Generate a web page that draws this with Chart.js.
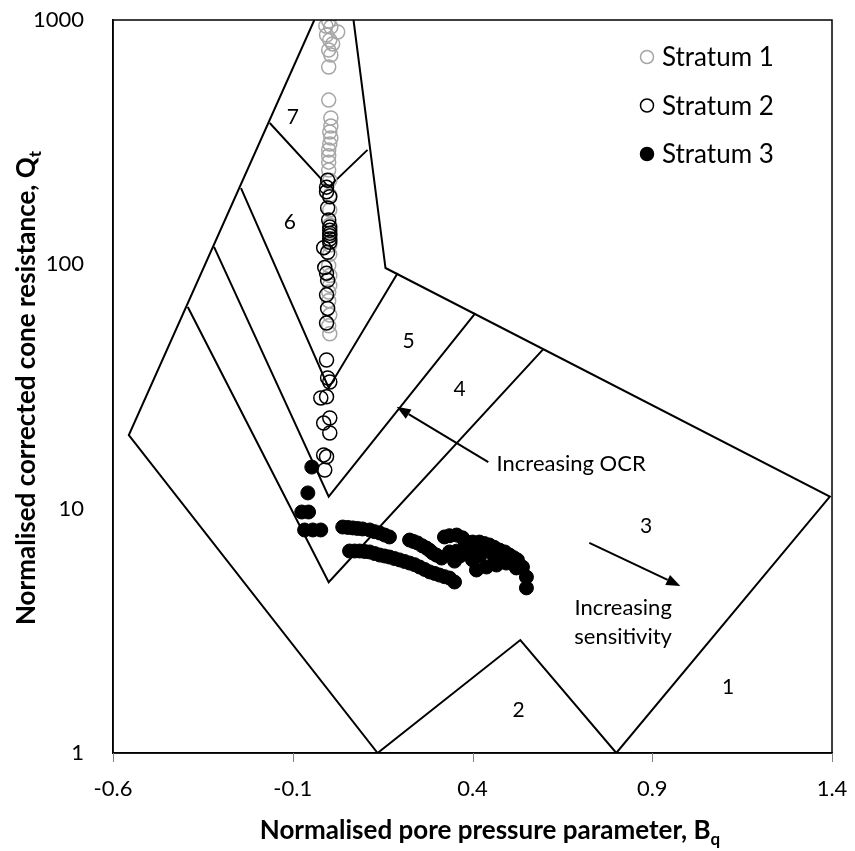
<!DOCTYPE html>
<html>
<head>
<meta charset="utf-8">
<script src="https://cdn.jsdelivr.net/npm/chart.js@4/dist/chart.umd.min.js"></script>
<style>
  html, body { margin: 0; padding: 0; background: #fff; }
  #wrap { width: 855px; height: 851px; position: relative; }
</style>
</head>
<body>
<div id="wrap"><canvas id="c" width="855" height="851"></canvas></div>
<script>
// ---------- data ----------
const xTickValues = [-0.6, -0.1, 0.4, 0.9, 1.4];
const yTickValues = [1, 10, 100, 1000];

// Stratum 1 (grey open circles)
const stratum1X = [0.000, -0.008, 0.006, 0.025, -0.006, 0.003, 0.011, 0.000, 0.006, 0.000, 0.000, 0.006, 0.006, 0.003, 0.006, 0.003, 0.000, 0.000, 0.000, 0.000, 0.003, 0.003, 0.003, 0.003, 0.003, 0.000, 0.003, 0.000, 0.003, 0.000, 0.003, 0.003, 0.003, 0.000];
const stratum1Y = [991, 945, 936, 893, 868, 828, 798, 754, 719, 642, 470, 397, 368, 348, 329, 311, 294, 278, 262, 243, 221, 192, 167, 145, 120, 99, 82, 71, 62, 56, 52, 110, 90, 77];

// Stratum 2 (black open circles)
const stratum2X = [-0.003, -0.006, -0.006, 0.003, -0.003, 0.000, 0.003, 0.003, 0.003, 0.003, 0.003, 0.003, -0.014, -0.003, -0.011, -0.006, -0.003, -0.006, -0.003, -0.006, -0.006, -0.003, 0.003, -0.022, -0.006, 0.003, -0.014, 0.003, -0.014, -0.006, -0.011];
const stratum2Y = [221, 207, 198, 189, 170, 152, 142, 138, 134, 131, 127, 123, 117, 112, 97, 92, 86, 75, 66, 57.5, 40.6, 34.3, 33, 28.4, 28.7, 23.5, 22.4, 20.4, 16.6, 16.3, 14.4];

// Stratum 3 (black filled circles)
const stratum3X = [
  -0.047, -0.058, -0.075, -0.056, -0.067, -0.044, -0.022,
  0.039, 0.053, 0.067, 0.080, 0.094, 0.114, 0.128, 0.142, 0.156, 0.169,
  0.058, 0.072, 0.086, 0.100, 0.114, 0.128, 0.142, 0.156, 0.169, 0.183, 0.197, 0.211, 0.225, 0.239, 0.253, 0.267, 0.281, 0.295, 0.308, 0.322, 0.336, 0.350,
  0.225, 0.236, 0.247, 0.260, 0.272, 0.281, 0.289, 0.300, 0.314,
  0.322, 0.336, 0.356, 0.372, 0.383, 0.400, 0.419, 0.433, 0.447, 0.460, 0.475, 0.490, 0.503, 0.515, 0.525, 0.539, 0.550, 0.550,
  0.336, 0.356, 0.372, 0.392, 0.400, 0.411, 0.420, 0.439, 0.447, 0.467, 0.475, 0.494, 0.510, 0.522, 0.350, 0.365, 0.430, 0.460, 0.490
];
const stratum3Y = [
  14.8, 11.6, 9.69, 9.69, 8.18, 8.18, 8.18,
  8.41, 8.38, 8.34, 8.30, 8.26, 8.18, 8.05, 7.95, 7.80, 7.66,
  6.71, 6.71, 6.71, 6.68, 6.65, 6.55, 6.46, 6.40, 6.34, 6.25, 6.17, 6.08, 5.99, 5.90, 5.77, 5.64, 5.51, 5.43, 5.35, 5.27, 5.20, 5.01,
  7.44, 7.34, 7.24, 7.05, 6.90, 6.75, 6.59, 6.45, 6.28,
  7.66, 7.75, 7.80, 7.60, 7.30, 7.30, 7.30, 7.20, 7.10, 6.95, 6.77, 6.65, 6.46, 6.30, 6.17, 5.77, 5.25, 4.74,
  6.65, 6.70, 6.59, 6.77, 6.17, 5.61, 6.40, 5.77, 6.90, 5.88, 6.30, 5.99, 6.10, 5.72, 6.10, 6.40, 6.70, 6.40, 6.40
];

// Robertson (1990) zone boundaries, [Bq, Qt]
const outerBoundaryX = [-0.040, -0.556, 0.136, 0.533, 0.800, 1.394, 0.158, 0.069];
const outerBoundaryY = [1000, 20.0, 1.0, 2.90, 1.0, 11.2, 96.6, 1000];
const zone76X = [-0.164, 0.000, 0.108];
const zone76Y = [379, 207, 294];
const zone65X = [-0.244, 0.000, 0.192];
const zone65Y = [205, 31.2, 92.2];
const zone54X = [-0.319, 0.000, 0.408];
const zone54Y = [117.8, 11.2, 63.2];
const zone43X = [-0.392, 0.000, 0.597];
const zone43Y = [66.9, 5.0, 45.0];

// zone numbers
const zoneLabels = ['7', '6', '5', '4', '3', '2', '1'];
const zoneLabelX = [-0.100, -0.108, 0.222, 0.364, 0.883, 0.528, 1.111];
const zoneLabelY = [401, 149, 48.6, 30.9, 8.5, 1.5, 1.85];

// annotation arrows: [tailX, tailY, tipX, tipY]
const ocrArrow = [0.444, 15.5, 0.189, 26.1];
const sensArrow = [0.725, 7.24, 0.978, 4.83];
const ocrText = ['Increasing OCR'];
const ocrTextPos = [0.467, 15.2];
const sensText = ['Increasing', 'sensitivity'];
const sensTextX = [0.819, 0.819];
const sensTextY = [3.92, 3.0];

const seriesNames = ['Stratum 1', 'Stratum 2', 'Stratum 3'];
const xTitle = ['Normalised pore pressure parameter, B', 'q'];
const yTitle = ['Normalised corrected cone resistance, Q', 't'];

// ---------- build ----------
const zip = (xs, ys) => xs.map((x, i) => ({ x: x, y: ys[i] }));
const FONT = 'Lato, "Open Sans", sans-serif';

function boundary(xs, ys) {
  return {
    label: '_b', data: zip(xs, ys), showLine: true, fill: false,
    borderColor: '#000', borderWidth: 2, pointRadius: 0, pointHoverRadius: 0,
    tension: 0, order: 5
  };
}

const datasets = [
  { label: seriesNames[2], data: zip(stratum3X, stratum3Y), pointRadius: 7, pointBackgroundColor: '#000', pointBorderColor: '#000', borderWidth: 1, showLine: false, order: 1 },
  { label: seriesNames[1], data: zip(stratum2X, stratum2Y), pointRadius: 7, pointBackgroundColor: 'rgba(0,0,0,0)', pointBorderColor: '#000', pointBorderWidth: 1.5, showLine: false, order: 2 },
  { label: seriesNames[0], data: zip(stratum1X, stratum1Y), pointRadius: 7, pointBackgroundColor: 'rgba(0,0,0,0)', pointBorderColor: '#a6a6a6', pointBorderWidth: 1.5, showLine: false, order: 3 },
  boundary(outerBoundaryX, outerBoundaryY),
  boundary(zone76X, zone76Y),
  boundary(zone65X, zone65Y),
  boundary(zone54X, zone54Y),
  boundary(zone43X, zone43Y)
];

function drawArrow(ctx, x0, y0, x1, y1) {
  ctx.save();
  ctx.strokeStyle = '#000'; ctx.fillStyle = '#000'; ctx.lineWidth = 2;
  const ang = Math.atan2(y1 - y0, x1 - x0);
  const hl = 14, hw = 5.5;
  const bx = x1 - hl * Math.cos(ang), by = y1 - hl * Math.sin(ang);
  ctx.beginPath(); ctx.moveTo(x0, y0); ctx.lineTo(bx, by); ctx.stroke();
  ctx.beginPath();
  ctx.moveTo(x1, y1);
  ctx.lineTo(bx + hw * Math.sin(ang), by - hw * Math.cos(ang));
  ctx.lineTo(bx - hw * Math.sin(ang), by + hw * Math.cos(ang));
  ctx.closePath(); ctx.fill();
  ctx.restore();
}

const decor = {
  id: 'decor',
  afterDatasetsDraw(chart) {
    const ctx = chart.ctx, xs = chart.scales.x, ys = chart.scales.y, ca = chart.chartArea;
    const px = v => xs.getPixelForValue(v), py = v => ys.getPixelForValue(v);
    ctx.save();
    // frame
    ctx.strokeStyle = '#000'; ctx.lineWidth = 1.5;
    ctx.strokeRect(ca.left, ca.top, ca.right - ca.left, ca.bottom - ca.top);
    // x tick marks (outside)
    ctx.strokeStyle = '#808080'; ctx.lineWidth = 1;
    xs.ticks.forEach(t => {
      const x = Math.round(px(t.value)) + 0.5;
      ctx.beginPath(); ctx.moveTo(x, ca.bottom); ctx.lineTo(x, ca.bottom + 9); ctx.stroke();
    });
    // zone numbers
    ctx.fillStyle = '#000';
    ctx.font = '21px ' + FONT;
    ctx.textAlign = 'center'; ctx.textBaseline = 'middle';
    zoneLabels.forEach((t, i) => ctx.fillText(t, px(zoneLabelX[i]), py(zoneLabelY[i])));
    // annotations
    ctx.font = '22px ' + FONT;
    ctx.textAlign = 'left';
    ctx.fillText(ocrText[0], px(ocrTextPos[0]), py(ocrTextPos[1]));
    ctx.textAlign = 'center';
    sensText.forEach((t, i) => ctx.fillText(t, px(sensTextX[i]), py(sensTextY[i])));
    drawArrow(ctx, px(ocrArrow[0]), py(ocrArrow[1]), px(ocrArrow[2]), py(ocrArrow[3]));
    drawArrow(ctx, px(sensArrow[0]), py(sensArrow[1]), px(sensArrow[2]), py(sensArrow[3]));

    // legend
    const lgX = ca.right - 185, lgY0 = ca.top + 37, lgDy = 48.5;
    const styles = [
      { fill: null, stroke: '#a6a6a6' },
      { fill: null, stroke: '#000' },
      { fill: '#000', stroke: '#000' }
    ];
    ctx.font = '26px ' + FONT;
    ctx.textAlign = 'left'; ctx.textBaseline = 'middle';
    seriesNames.forEach((n, i) => {
      const y = lgY0 + i * lgDy;
      ctx.beginPath(); ctx.arc(lgX, y, 6.5, 0, Math.PI * 2);
      if (styles[i].fill) { ctx.fillStyle = styles[i].fill; ctx.fill(); }
      ctx.lineWidth = 1.5; ctx.strokeStyle = styles[i].stroke; ctx.stroke();
      ctx.fillStyle = '#000';
      ctx.fillText(n, lgX + 15, y + 1);
    });

    // axis titles with subscripts
    const tf = 'bold 26px ' + FONT, sf = 'bold 17px ' + FONT;
    ctx.fillStyle = '#000';
    ctx.textBaseline = 'alphabetic';
    // x title
    ctx.font = tf; const w1 = ctx.measureText(xTitle[0]).width;
    ctx.font = sf; const w2 = ctx.measureText(xTitle[1]).width;
    const cx = 490, by = 839;
    let sx = cx - (w1 + w2) / 2;
    ctx.textAlign = 'left';
    ctx.font = tf; ctx.fillText(xTitle[0], sx, by);
    ctx.font = sf; ctx.fillText(xTitle[1], sx + w1, by + 6);
    // y title
    ctx.save();
    ctx.translate(35, 388);
    ctx.rotate(-Math.PI / 2);
    ctx.font = tf; const v1 = ctx.measureText(yTitle[0]).width;
    ctx.font = sf; const v2 = ctx.measureText(yTitle[1]).width;
    const sy = -(v1 + v2) / 2;
    ctx.font = tf; ctx.fillText(yTitle[0], sy, 0);
    ctx.font = sf; ctx.fillText(yTitle[1], sy + v1, 6);
    ctx.restore();
    ctx.restore();
  }
};

new Chart(document.getElementById('c'), {
  type: 'scatter',
  data: { datasets: datasets },
  options: {
    responsive: false, animation: false, devicePixelRatio: 1,
    layout: { padding: { left: 0, right: 23, top: 20, bottom: 0 } },
    plugins: { legend: { display: false }, tooltip: { enabled: false } },
    scales: {
      x: {
        type: 'linear', min: -0.6, max: 1.4,
        afterBuildTicks: s => { s.ticks = xTickValues.map(v => ({ value: v })); },
        afterFit: s => { s.height = 98; },
        grid: { display: true, drawOnChartArea: false, drawTicks: true, tickLength: 23, color: 'rgba(0,0,0,0)' },
        border: { display: true, color: '#000', width: 1.5 },
        ticks: { color: '#000', font: { family: FONT, size: 22 }, padding: 0, maxRotation: 0,
                 callback: v => v.toFixed(1) }
      },
      y: {
        type: 'logarithmic', min: 1, max: 1000,
        afterBuildTicks: s => { s.ticks = yTickValues.map(v => ({ value: v })); },
        afterFit: s => { s.width = 113; },
        grid: { display: true, drawOnChartArea: false, drawTicks: true, tickLength: 26, color: 'rgba(0,0,0,0)' },
        border: { display: true, color: '#000', width: 1.5 },
        ticks: { color: '#000', font: { family: FONT, size: 22 }, padding: 3,
                 callback: v => String(v) }
      }
    }
  },
  plugins: [decor]
});
</script>
</body>
</html>
